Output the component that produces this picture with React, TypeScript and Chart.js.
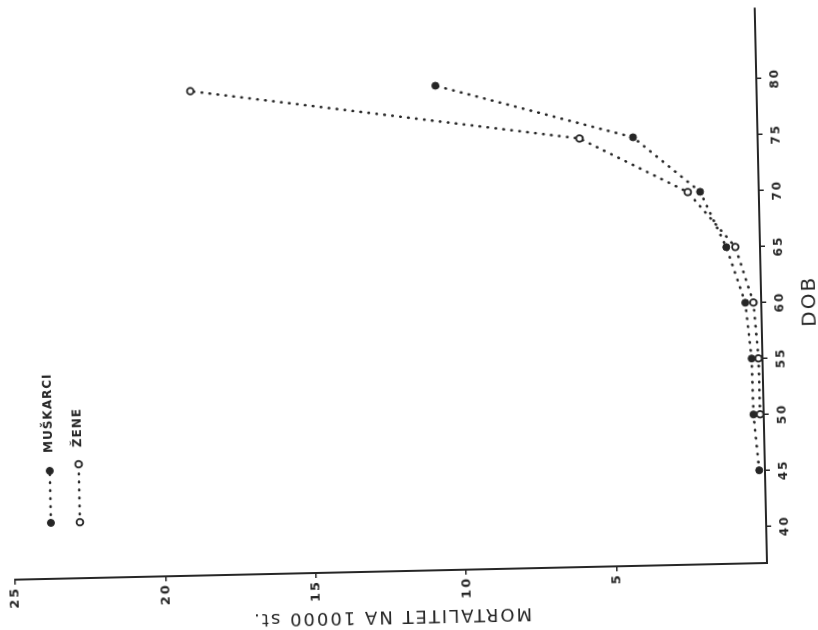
import React, { useEffect, useRef } from 'react';
import { Chart, registerables } from 'chart.js';

Chart.register(...registerables);

// ---- data ----
const AGES = [45, 50, 55, 60, 65, 70, 75, 80];
const MEN = [0.19, 0.34, 0.36, 0.53, 1.12, 1.95, 4.14, 10.67];
const WOMEN: (number | null)[] = [null, 0.12, 0.13, 0.26, 0.82, 2.36, 5.92, 18.82];
const AGE_TICKS = [40, 45, 50, 55, 60, 65, 70, 75, 80];
const MORT_TICKS = [5, 10, 15, 20, 25];
const LABEL_MEN = 'MUŠKARCI';
const LABEL_WOMEN = 'ŽENE';
const TITLE_AGE = 'DOB';
const TITLE_MORT = 'MORTALITET NA 10000 st.';

const INK = '#262626';
const FONT = '"DejaVu Sans", sans-serif';

const toPoints = (vals: (number | null)[]) =>
  AGES.map((a, i) => ({ x: a, y: vals[i] })).filter((p) => p.y !== null);

const spacingPlugin = {
  id: 'spacing',
  beforeDraw(chart: any) {
    const ctx = chart.ctx;
    ctx.fillStyle = '#ffffff';
    ctx.fillRect(0, 0, chart.width, chart.height);
    (ctx as any).letterSpacing = '2px';
  },
};

const legendPlugin = {
  id: 'handLegend',
  afterDraw(chart: any) {
    const ctx = chart.ctx;
    const items = [
      { ds: chart.data.datasets[0], y: 52, x0: 123, x1: 175, tx: 193 },
      { ds: chart.data.datasets[1], y: 81, x0: 123, x1: 181, tx: 198 },
    ];
    ctx.save();
    (ctx as any).letterSpacing = '1px';
    items.forEach((it) => {
      ctx.strokeStyle = INK;
      ctx.lineWidth = it.ds.borderWidth;
      ctx.lineCap = 'round';
      ctx.setLineDash(it.ds.borderDash);
      ctx.beginPath();
      ctx.moveTo(it.x0, it.y);
      ctx.lineTo(it.x1, it.y);
      ctx.stroke();
      ctx.setLineDash([]);
      [it.x0, it.x1].forEach((x) => {
        ctx.beginPath();
        ctx.arc(x, it.y, it.ds.pointRadius, 0, Math.PI * 2);
        ctx.fillStyle = it.ds.pointBackgroundColor;
        ctx.fill();
        ctx.lineWidth = it.ds.pointBorderWidth;
        ctx.strokeStyle = INK;
        ctx.stroke();
      });
      ctx.fillStyle = INK;
      ctx.font = 'bold 12px ' + FONT;
      ctx.textAlign = 'left';
      ctx.textBaseline = 'middle';
      ctx.fillText(it.ds.label, it.tx, it.y);
    });
    ctx.restore();
  },
};

export default function App() {
  const ref = useRef<HTMLCanvasElement>(null);

  useEffect(() => {
    if (!ref.current) return;
    const chart = new Chart(ref.current, {
      type: 'line',
      data: {
        datasets: [
          {
            label: LABEL_MEN,
            data: toPoints(MEN) as any,
            borderColor: INK,
            borderWidth: 2.6,
            borderDash: [0.5, 7.5],
            borderCapStyle: 'round',
            tension: 0,
            pointRadius: 3.5,
            pointBorderWidth: 1,
            pointBackgroundColor: INK,
            pointBorderColor: INK,
            fill: false,
          },
          {
            label: LABEL_WOMEN,
            data: toPoints(WOMEN) as any,
            borderColor: INK,
            borderWidth: 2.6,
            borderDash: [0.5, 7.5],
            borderCapStyle: 'round',
            tension: 0,
            pointRadius: 3.3,
            pointBorderWidth: 1.8,
            pointBackgroundColor: '#ffffff',
            pointBorderColor: INK,
            fill: false,
          },
        ],
      },
      options: {
        animation: false,
        responsive: false,
        events: [],
        layout: { padding: { top: 15, right: 8, left: 0, bottom: 0 } },
        plugins: { legend: { display: false }, tooltip: { enabled: false } },
        scales: {
          x: {
            type: 'linear',
            min: 36.7,
            max: 86.3,
            afterBuildTicks: (s: any) => {
              s.ticks = AGE_TICKS.map((v) => ({ value: v }));
            },
            afterFit: (s: any) => {
              s.height = 73;
            },
            grid: {
              display: true,
              drawOnChartArea: false,
              drawTicks: true,
              tickLength: 5,
              color: INK,
              lineWidth: 1.5,
            },
            border: { display: true, color: INK, width: 2 },
            ticks: {
              color: INK,
              padding: 7,
              maxRotation: 0,
              autoSkip: false,
              font: { family: FONT, size: 12, weight: 'bold' },
            },
            title: {
              display: true,
              text: TITLE_AGE + '    ',
              color: INK,
              padding: { top: 0, bottom: 12 },
              font: { family: FONT, size: 20, weight: 'normal' },
            },
          },
          y: {
            type: 'linear',
            min: 0,
            max: 25,
            afterBuildTicks: (s: any) => {
              s.ticks = MORT_TICKS.map((v) => ({ value: v }));
            },
            afterFit: (s: any) => {
              s.width = 67;
            },
            grid: {
              display: true,
              drawOnChartArea: false,
              drawTicks: true,
              tickLength: 5,
              color: INK,
              lineWidth: 1.5,
            },
            border: { display: true, color: INK, width: 2 },
            ticks: {
              color: INK,
              padding: 2,
              autoSkip: false,
              font: { family: FONT, size: 13, weight: 'bold' },
            },
            title: {
              display: true,
              text: TITLE_MORT,
              color: INK,
              padding: { top: 12, bottom: 0 },
              font: { family: FONT, size: 18, weight: 'normal' },
            },
          },
        },
      } as any,
      plugins: [spacingPlugin, legendPlugin],
    });
    return () => chart.destroy();
  }, []);

  return (
    <div
      style={{
        position: 'fixed',
        left: 0,
        top: 0,
        width: 818,
        height: 630,
        overflow: 'hidden',
        background: '#ffffff',
      }}
    >
      <div
        style={{
          position: 'absolute',
          left: 700,
          top: -204,
          width: 630,
          height: 840,
          transformOrigin: '67px 767px',
          transform: 'rotate(-91.27deg)',
        }}
      >
        <canvas ref={ref} width={630} height={840} style={{ display: 'block' }} />
      </div>
    </div>
  );
}
